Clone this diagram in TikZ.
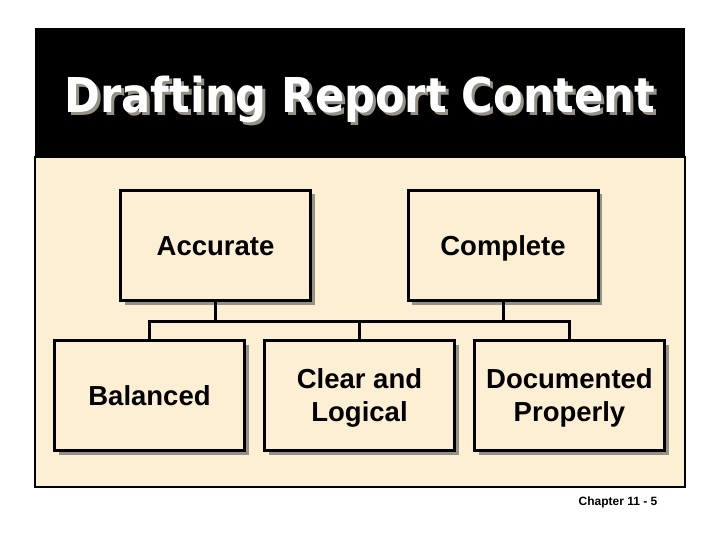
\documentclass[tikz,border=0pt]{standalone}
\usepackage{fontspec}
\setmainfont{Liberation Sans}
\newfontfamily\titlefont{DejaVu Sans Condensed}
\usetikzlibrary{positioning,calc,shadows}
\definecolor{PaperTan}{RGB}{252,239,212}
\definecolor{ShadeGray}{RGB}{150,145,135}
\tikzset{
  topic/.style={draw=black,fill=PaperTan,line width=3pt,
    minimum width=190pt,minimum height=110pt,align=center,text depth=0pt,
    font=\fontsize{27.5}{33}\selectfont\bfseries,
    drop shadow={shadow xshift=4pt,shadow yshift=-4pt,fill=ShadeGray,opacity=1}},
  oneline/.style={text height=20pt},
  link/.style={draw=black,line width=3pt},
  headline/.style={font=\titlefont\fontsize{48}{48}\selectfont\bfseries,anchor=base},
}
\begin{document}
\begin{tikzpicture}[x=1pt,y=-1pt]
\useasboundingbox (0,0) rectangle (720,540);
\fill[white] (0,0) rectangle (720,540);
% slide frame
\fill[black] (35,28) rectangle (685,157);
\draw[fill=PaperTan,line width=2pt] (35,157) rectangle (685,487);
% title
\node[headline,text=ShadeGray] (titleshade) at (363,116) {Drafting Report Content};
\node[headline,text=white] (title) at (360,113) {Drafting Report Content};
% boxes
\node[topic,oneline] (accurate) at (215.5,245.5) {Accurate};
\node[topic,oneline] (complete) at (503,245.5) {Complete};
\node[topic,oneline] (balanced) at (149.5,395.5) {Balanced};
\node[topic] (clear) at (359.5,395.5) {Clear and\\Logical};
\node[topic] (documented) at (569.5,395.5) {Documented\\Properly};
% connectors
\coordinate (bus) at (360,321);
\draw[link] (balanced.north) -- (balanced.north |- bus) -- (documented.north |- bus) -- (documented.north);
\draw[link] (accurate.south) -- (accurate.south |- bus);
\draw[link] (complete.south) -- (complete.south |- bus);
\draw[link] (clear.north) -- (clear.north |- bus);
% footer
\node[font=\fontsize{12}{12}\selectfont\bfseries] (footer) at (618,502) {Chapter 11 - 5};
\end{tikzpicture}
\end{document}
